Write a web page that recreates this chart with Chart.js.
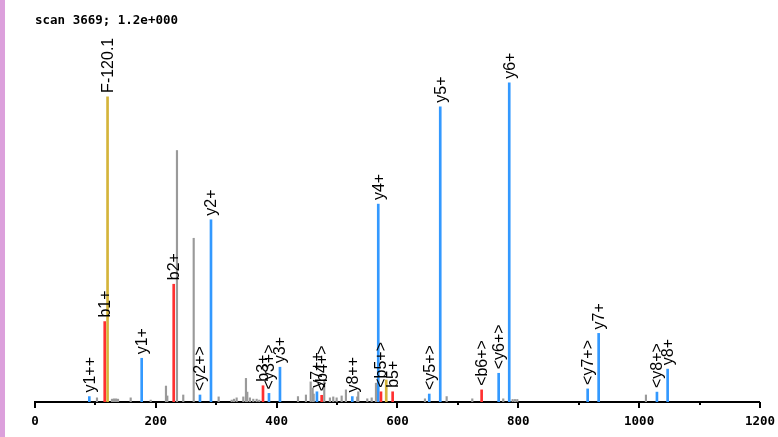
<!DOCTYPE html>
<html>
<head>
<meta charset="utf-8">
<script src="https://cdn.jsdelivr.net/npm/chart.js@4/dist/chart.umd.min.js"></script>
<style>
  html, body { margin: 0; padding: 0; background: #fff; }
  #wrap { position: relative; width: 778px; height: 437px; }
  #strip { position: absolute; left: 0; top: 0; width: 5px; height: 437px; background: #dca0dc; }
  canvas { position: absolute; left: 0; top: 0; }
</style>
</head>
<body>
<div id="wrap">
  <canvas id="spectrum" width="778" height="437"></canvas>
  <div id="strip"></div>
</div>
<script>
// ===== Spectrum data (m/z, relative intensity %) =====
const scanTitle = "scan 3669; 1.2e+000";

const yIonMz = [89.9, 176.6, 273.1, 291.3, 387.3, 405.5, 466.7, 525.2, 568.2, 652.6, 670.8, 767.5, 785.0, 914.8, 933.0, 1029.5, 1047.2];
const yIonInt = [1.7, 13.7, 2.2, 57.1, 2.7, 10.9, 3.2, 1.7, 62.0, 2.5, 92.5, 9.0, 100, 4.1, 21.5, 3.1, 10.3];
const yIonNames = ["y1++", "y1+", "<y2+>", "y2+", "<y3+>", "y3+", "y7++", "y8++", "y4+", "<y5+>", "y5+", "<y6+>", "y6+", "<y7+>", "y7+", "<y8+>", "y8+"];

const bIonMz = [115.4, 229.6, 377.4, 474.5, 572.7, 592.0, 739.3];
const bIonInt = [25.2, 36.9, 5.1, 2.1, 3.2, 3.2, 3.8];
const bIonNames = ["b1+", "b2+", "b3+", "<b4+>", "<b5+>", "b5+", "<b6+>"];

const lossMz = [120.1, 581.4];
const lossInt = [95.6, 6.9];
const lossNames = ["F-120.1", ""];

const otherMz = [102.6, 127.4, 130.7, 134.1, 137.4, 158.4, 191.5, 216.8, 219.0, 235.0, 245.4, 262.7,
    304.0, 325.6, 329.4, 333.8, 344.8, 349.2, 351.4, 355.8, 361.3, 366.9, 371.2,
    435.3, 448.5, 456.3, 459.6, 461.3, 478.8, 488.2, 493.7, 499.3, 507.6, 514.7, 533.4, 535.1,
    550.0, 557.3, 564.4, 645.5, 681.4, 723.8, 775.1, 790.6, 794.4, 798.3, 1011.3];
const otherInt = [1.3, 0.9, 1.0, 1.0, 0.9, 1.3, 0.6, 5.0, 1.9, 78.8, 2.2, 51.3,
    1.6, 0.6, 0.9, 1.3, 1.6, 7.4, 3.1, 1.3, 0.9, 0.9, 0.6,
    1.7, 2.2, 6.3, 4.4, 2.5, 6.9, 1.3, 1.6, 1.3, 1.9, 3.8, 1.6, 3.2,
    1.0, 1.3, 5.9, 1.0, 1.7, 1.0, 1.0, 0.8, 0.8, 0.8, 2.2];

const xTickStep = 100;
const xMin = 0;
const xMax = 1200;

function toPoints(mz, inten) {
    return mz.map((m, i) => ({ x: m, y: inten[i] }));
}

// ===== Peak labels, title and axis ticks =====
const spectrumDecor = {
    id: 'spectrumDecor',
    afterDatasetsDraw(chart) {
        const { ctx } = chart;
        ctx.save();
        ctx.font = "16px 'Liberation Sans'";
        ctx.fillStyle = "#000";
        ctx.textAlign = "left";
        ctx.textBaseline = "middle";
        chart.data.datasets.forEach((ds, i) => {
            if (!ds.peakNames) return;
            chart.getDatasetMeta(i).data.forEach((bar, j) => {
                const name = ds.peakNames[j];
                if (!name) return;
                ctx.save();
                ctx.translate(bar.x + 1, bar.y - 4);
                ctx.rotate(-Math.PI / 2);
                ctx.fillText(name, 0, 0);
                ctx.restore();
            });
        });
        ctx.restore();
    },
    afterDraw(chart) {
        const { ctx } = chart;
        const xScale = chart.scales.x;
        const axisY = chart.chartArea.bottom;
        ctx.save();
        ctx.strokeStyle = "#000";
        ctx.lineWidth = 2;
        xScale.ticks.forEach(t => {
            const px = Math.round(xScale.getPixelForValue(t.value));
            const len = t.value % 200 === 0 ? 6 : 3;
            ctx.beginPath();
            ctx.moveTo(px, axisY);
            ctx.lineTo(px, axisY + len);
            ctx.stroke();
        });
        ctx.font = "bold 12.5px 'DejaVu Sans Mono'";
        ctx.fillStyle = "#000";
        ctx.textAlign = "left";
        ctx.textBaseline = "middle";
        ctx.fillText(scanTitle, 35, 21);
        ctx.restore();
    }
};

new Chart(document.getElementById("spectrum"), {
    type: "bar",
    data: {
        datasets: [
            { data: toPoints(otherMz, otherInt), backgroundColor: "#9a9a9a", barThickness: 1.5 },
            { data: toPoints(lossMz, lossInt), backgroundColor: "#d4b43a", barThickness: 2, peakNames: lossNames },
            { data: toPoints(bIonMz, bIonInt), backgroundColor: "#ff3030", barThickness: 2, peakNames: bIonNames },
            { data: toPoints(yIonMz, yIonInt), backgroundColor: "#3399ff", barThickness: 2, peakNames: yIonNames }
        ]
    },
    options: {
        responsive: false,
        animation: false,
        layout: { padding: { left: 35, right: 15, top: 19, bottom: 5 } },
        datasets: { bar: { grouped: false, borderWidth: 0 } },
        scales: {
            x: {
                type: "linear",
                min: xMin,
                max: xMax,
                offset: false,
                grid: { display: true, drawOnChartArea: false, drawTicks: true, tickLength: 9, tickColor: "rgba(0,0,0,0)" },
                border: { display: true, color: "#000", width: 2 },
                ticks: {
                    stepSize: xTickStep,
                    autoSkip: false,
                    maxRotation: 0,
                    padding: 3,
                    color: "#000",
                    font: { family: "'DejaVu Sans Mono'", size: 12.5, weight: "bold" },
                    callback: v => (v % 200 === 0 ? v : "")
                }
            },
            y: { display: false, min: 0, max: 120 }
        },
        plugins: {
            legend: { display: false },
            tooltip: { enabled: false }
        }
    },
    plugins: [spectrumDecor]
});
</script>
</body>
</html>
